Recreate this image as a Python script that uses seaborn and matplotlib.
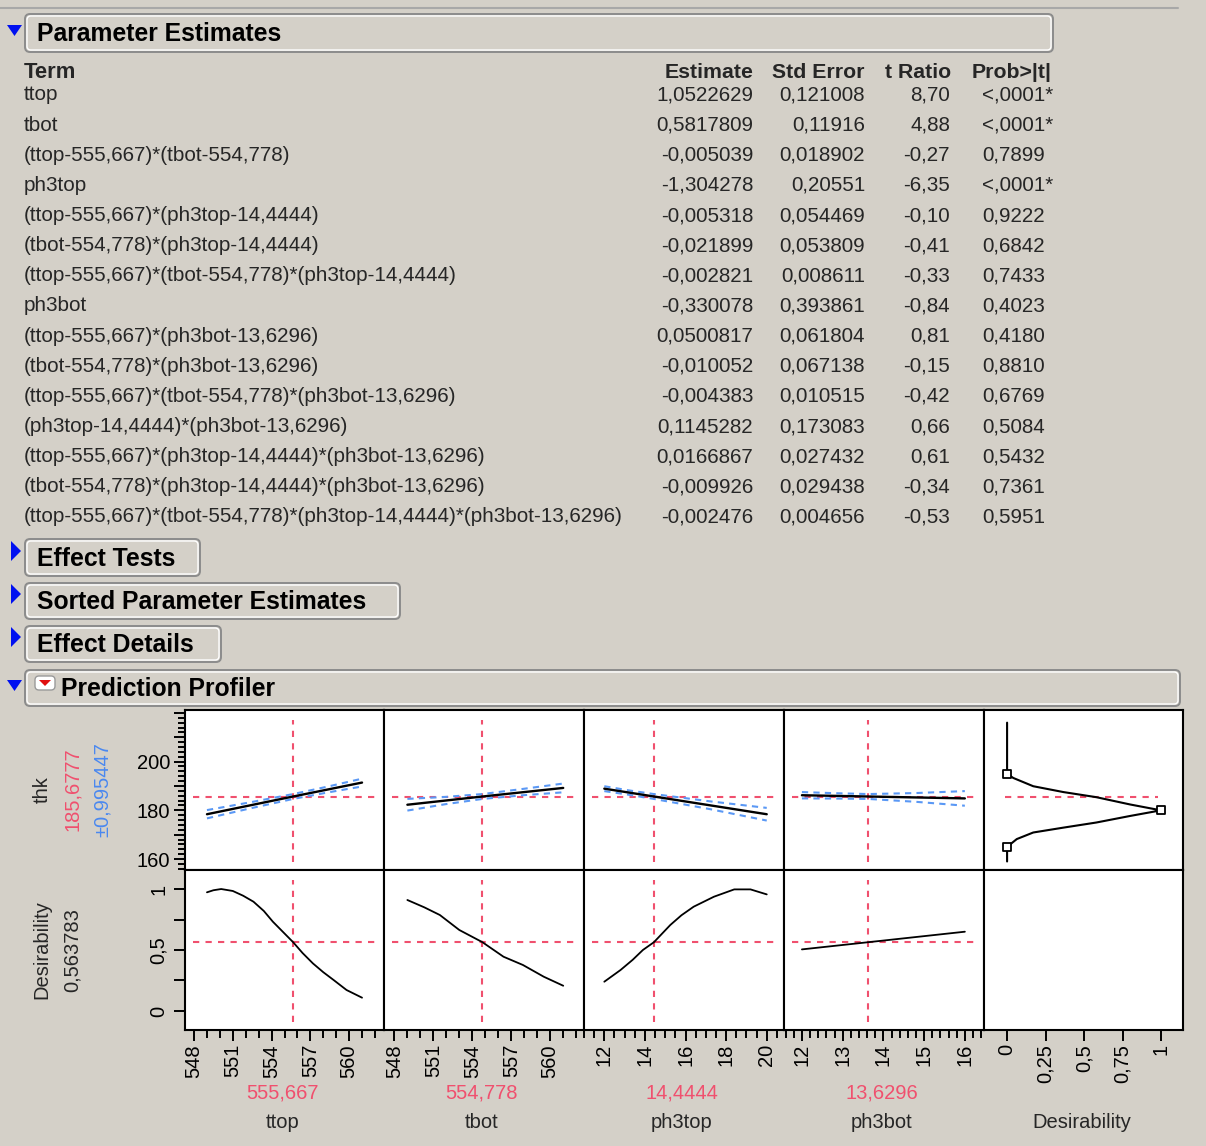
import pandas as pd
import matplotlib.pyplot as plt
import seaborn as sns
from matplotlib.patches import FancyBboxPatch, Polygon
from matplotlib.ticker import FixedLocator, FixedFormatter, MultipleLocator

# ---------------- Parameter Estimates table ----------------
terms = [
    "ttop",
    "tbot",
    "(ttop-555,667)*(tbot-554,778)",
    "ph3top",
    "(ttop-555,667)*(ph3top-14,4444)",
    "(tbot-554,778)*(ph3top-14,4444)",
    "(ttop-555,667)*(tbot-554,778)*(ph3top-14,4444)",
    "ph3bot",
    "(ttop-555,667)*(ph3bot-13,6296)",
    "(tbot-554,778)*(ph3bot-13,6296)",
    "(ttop-555,667)*(tbot-554,778)*(ph3bot-13,6296)",
    "(ph3top-14,4444)*(ph3bot-13,6296)",
    "(ttop-555,667)*(ph3top-14,4444)*(ph3bot-13,6296)",
    "(tbot-554,778)*(ph3top-14,4444)*(ph3bot-13,6296)",
    "(ttop-555,667)*(tbot-554,778)*(ph3top-14,4444)*(ph3bot-13,6296)",
]
estimates = ["1,0522629", "0,5817809", "-0,005039", "-1,304278", "-0,005318",
             "-0,021899", "-0,002821", "-0,330078", "0,0500817", "-0,010052",
             "-0,004383", "0,1145282", "0,0166867", "-0,009926", "-0,002476"]
std_errors = ["0,121008", "0,11916", "0,018902", "0,20551", "0,054469",
              "0,053809", "0,008611", "0,393861", "0,061804", "0,067138",
              "0,010515", "0,173083", "0,027432", "0,029438", "0,004656"]
t_ratios = ["8,70", "4,88", "-0,27", "-6,35", "-0,10", "-0,41", "-0,33", "-0,84",
            "0,81", "-0,15", "-0,42", "0,66", "0,61", "-0,34", "-0,53"]
p_values = ["<,0001*", "<,0001*", "0,7899", "<,0001*", "0,9222", "0,6842", "0,7433",
            "0,4023", "0,4180", "0,8810", "0,6769", "0,5084", "0,5432", "0,7361", "0,5951"]

# ---------------- Prediction Profiler ----------------
factors = ["ttop", "tbot", "ph3top", "ph3bot"]
current_txt = ["555,667", "554,778", "14,4444", "13,6296"]
current_vals = [555.667, 554.778, 14.4444, 13.6296]
thk_now = 185.6777
desir_now = 0.563783

# predicted thk line per factor
ttop_x = [549, 555.667, 561]
ttop_thk = [178.4, 185.68, 191.4]
tbot_x = [549, 554.778, 561]
tbot_thk = [182.3, 185.68, 189.2]
ph3top_x = [12, 14.4444, 20]
ph3top_thk = [188.9, 185.68, 178.4]
ph3bot_x = [12, 13.6296, 16]
ph3bot_thk = [186.2, 185.68, 184.9]

# confidence bands
ttop_bx = [549, 552.3, 555.667, 558.3, 561]
ttop_lo = [176.7, 180.75, 184.68, 187.3, 189.8]
ttop_hi = [180.1, 183.25, 186.68, 189.7, 193.0]
tbot_bx = [549, 551.9, 554.778, 557.9, 561]
tbot_lo = [179.9, 182.5, 184.68, 186.2, 187.4]
tbot_hi = [184.7, 185.5, 186.68, 188.8, 191.0]
ph3top_bx = [12, 13.2, 14.4444, 17.2, 20]
ph3top_lo = [187.9, 186.4, 184.68, 180.5, 175.8]
ph3top_hi = [189.9, 188.2, 186.68, 183.7, 181.0]
ph3bot_bx = [12, 12.8, 13.6296, 14.8, 16]
ph3bot_lo = [184.9, 184.85, 184.68, 183.5, 181.9]
ph3bot_hi = [187.5, 187.05, 186.68, 187.1, 187.9]

# desirability traces
ttop_dx = [549.0, 549.5, 550.1, 551.0, 551.8, 552.6, 553.4, 554.1, 555.667, 556.4, 557.2, 558.0, 558.8, 559.8, 561.0]
ttop_d = [0.973, 0.99, 1.0, 0.984, 0.945, 0.896, 0.82, 0.732, 0.564, 0.475, 0.39, 0.318, 0.254, 0.172, 0.109]
tbot_dx = [549.0, 550.3, 551.5, 553.0, 554.778, 556.4, 557.9, 559.5, 561.0]
tbot_d = [0.91, 0.85, 0.787, 0.664, 0.564, 0.445, 0.377, 0.281, 0.207]
ph3top_dx = [12, 12.8, 13.4, 13.9, 14.4444, 15.25, 15.8, 16.4, 17.4, 18.4, 19.2, 20]
ph3top_d = [0.24, 0.336, 0.42, 0.5, 0.564, 0.705, 0.785, 0.855, 0.937, 0.997, 0.997, 0.956]
ph3bot_dx = [12, 13.6296, 16]
ph3bot_d = [0.505, 0.564, 0.65]

# desirability function for thk (target shape)
dfun_d = [0, 0, 0.04, 0.17, 0.366, 0.58, 0.80, 1.0, 0.80, 0.58, 0.366, 0.17, 0.063, 0, 0]
dfun_thk = [216, 195, 193.3, 189.9, 187.5, 185.4, 182.4, 180, 177.7, 175, 172.9, 170.9, 168.2, 165, 159]
dfun_mark_d = [0, 1, 0]
dfun_mark_thk = [195, 180, 165]

W, H = 1206, 1146
BG = "#D4D0C8"
RED = "#F0506E"
BLUE_TXT = "#4A88F0"
BLUE = "#5A98F5"
PX = 0.72  # points per pixel at dpi 100

sns.set_theme(style="white")
plt.rcParams["font.family"] = ["Liberation Sans", "DejaVu Sans"]

fig = plt.figure(figsize=(W / 100, H / 100), dpi=100, facecolor=BG)

# overlay in pixel coordinates for the window chrome and text
ov = fig.add_axes([0, 0, 1, 1])
ov.set_xlim(0, W)
ov.set_ylim(H, 0)
ov.axis("off")

ov.plot([0, 1178], [8, 8], color="#A8A8A8", lw=1.5)


def bar(x0, y0, x1, y1, label, tx, size=17.8):
    ov.add_patch(FancyBboxPatch((x0, y0), x1 - x0, y1 - y0,
                                boxstyle="round,pad=0,rounding_size=5",
                                fc=BG, ec="#8C8C8C", lw=1.4))
    ov.add_patch(FancyBboxPatch((x0 + 2, y0 + 2), x1 - x0 - 4, y1 - y0 - 4,
                                boxstyle="round,pad=0,rounding_size=4",
                                fc="none", ec="white", lw=1.0))
    ov.text(tx, (y0 + y1) / 2 + 1, label, fontsize=size, fontweight="bold",
            ha="left", va="center", color="black")


def tri_down(x, y):
    ov.add_patch(Polygon([(x, y), (x + 15, y), (x + 7.5, y + 11)], closed=True,
                         fc="#0010F0", ec="none"))


def tri_right(x, y):
    ov.add_patch(Polygon([(x, y), (x + 10, y + 10), (x, y + 20)], closed=True,
                         fc="#0010F0", ec="none"))


bar(25, 14, 1053, 52, "Parameter Estimates", 37)
tri_down(7, 25)
bar(25, 539, 200, 576, "Effect Tests", 37)
tri_right(11, 541)
bar(25, 583, 400, 619, "Sorted Parameter Estimates", 37)
tri_right(11, 584)
bar(25, 626, 221, 662, "Effect Details", 37)
tri_right(11, 627)
bar(25, 670, 1180, 706, "Prediction Profiler", 61)
tri_down(7, 680)
ov.add_patch(FancyBboxPatch((35, 676), 20, 14, boxstyle="round,pad=0,rounding_size=4",
                            fc="white", ec="#9A9A9A", lw=1))
ov.add_patch(Polygon([(39, 680), (51, 680), (45, 686)], closed=True, fc="#E01010", ec="none"))

# table
HS, BS = 15.3, 14.9
ov.text(24, 72, "Term", fontsize=HS + 0.5, fontweight="bold", ha="left", va="center")
ov.text(753, 72, "Estimate", fontsize=HS, fontweight="bold", ha="right", va="center")
ov.text(865, 72, "Std Error", fontsize=HS, fontweight="bold", ha="right", va="center")
ov.text(951, 72, "t Ratio", fontsize=HS, fontweight="bold", ha="right", va="center")
ov.text(972, 72, "Prob>|t|", fontsize=HS, fontweight="bold", ha="left", va="center")
for i in range(len(terms)):
    y = 95 + i * 30.14
    ov.text(24, y, terms[i], fontsize=BS, ha="left", va="center")
    ov.text(753, y, estimates[i], fontsize=BS, ha="right", va="center")
    ov.text(865, y, std_errors[i], fontsize=BS, ha="right", va="center")
    ov.text(950, y, t_ratios[i], fontsize=BS, ha="right", va="center")
    ov.text(982, y, p_values[i], fontsize=BS, ha="left", va="center")

# profiler grid
col_edges = [185, 384, 584, 784, 984, 1183]
row_edges = [710, 870, 1030]
xlims = [(547.3, 562.7), (547.2, 562.6), (11.0, 20.85), (11.56, 16.47), (-0.15, 1.143)]
top_lim = (155.5, 221.2)
bot_lim = (-0.156, 1.156)


def panel(c, r):
    x0, x1 = col_edges[c], col_edges[c + 1]
    y0, y1 = row_edges[r], row_edges[r + 1]
    ax = fig.add_axes([x0 / W, 1 - y1 / H, (x1 - x0) / W, (y1 - y0) / H])
    ax.set_facecolor("white")
    for s in ax.spines.values():
        s.set_visible(True)
        s.set_color("black")
        s.set_linewidth(1.5)
    ax.set_xlim(*xlims[c])
    ax.set_ylim(*(top_lim if r == 0 else bot_lim))
    ax.tick_params(which="both", left=False, bottom=False, labelleft=False, labelbottom=False)
    return ax


dash = (0, (3, 3))
pred_x = [ttop_x, tbot_x, ph3top_x, ph3bot_x]
pred_y = [ttop_thk, tbot_thk, ph3top_thk, ph3bot_thk]
band_x = [ttop_bx, tbot_bx, ph3top_bx, ph3bot_bx]
band_lo = [ttop_lo, tbot_lo, ph3top_lo, ph3bot_lo]
band_hi = [ttop_hi, tbot_hi, ph3top_hi, ph3bot_hi]
des_x = [ttop_dx, tbot_dx, ph3top_dx, ph3bot_dx]
des_y = [ttop_d, tbot_d, ph3top_d, ph3bot_d]

axes_top, axes_bot = [], []
for c in range(5):
    at = panel(c, 0)
    ab = panel(c, 1)
    axes_top.append(at)
    axes_bot.append(ab)
    if c < 4:
        at.axhline(thk_now, 0.04, 0.955, color=RED, lw=1.5, ls=dash, zorder=1)
        at.axvline(current_vals[c], 0.05, 0.94, color=RED, lw=1.5, ls=dash, zorder=1)
        sns.lineplot(x=band_x[c], y=band_lo[c], ax=at, color=BLUE, lw=1.5,
                     linestyle=(0, (3, 2.5)), estimator=None, sort=False, zorder=2)
        sns.lineplot(x=band_x[c], y=band_hi[c], ax=at, color=BLUE, lw=1.5,
                     linestyle=(0, (3, 2.5)), estimator=None, sort=False, zorder=2)
        sns.lineplot(x=pred_x[c], y=pred_y[c], ax=at, color="black", lw=1.7,
                     estimator=None, sort=False, zorder=3)

        ab.axhline(desir_now, 0.04, 0.955, color=RED, lw=1.5, ls=dash, zorder=1)
        ab.axvline(current_vals[c], 0.05, 0.94, color=RED, lw=1.5, ls=dash, zorder=1)
        sns.lineplot(x=des_x[c], y=des_y[c], ax=ab, color="black", lw=1.3,
                     estimator=None, sort=False, zorder=3)
    else:
        at.axhline(thk_now, 0.105, 0.874, color=RED, lw=1.5, ls=dash, zorder=1)
        sns.lineplot(x=dfun_d, y=dfun_thk, ax=at, color="black", lw=1.5,
                     estimator=None, sort=False, zorder=3)
        sns.scatterplot(x=dfun_mark_d, y=dfun_mark_thk, ax=at, marker="s", s=32,
                        facecolor="white", edgecolor="black", linewidth=1.3, zorder=4)
    for a in (at, ab):
        a.set_xlabel("")
        a.set_ylabel("")

# left axis: thk
ax = axes_top[0]
ax.yaxis.set_major_locator(FixedLocator([160, 170, 180, 190, 200, 210, 220]))
ax.yaxis.set_major_formatter(FixedFormatter(["160", "", "180", "", "200", "", ""]))
ax.yaxis.set_minor_locator(MultipleLocator(2))
ax.tick_params(axis="y", which="major", left=True, labelleft=True, length=11 * PX, width=1.4,
               labelsize=14.5, pad=4 * PX, color="black", labelcolor="black")
ax.tick_params(axis="y", which="minor", left=True, length=7 * PX, width=1.4, color="black")

# left axis: desirability
ax = axes_bot[0]
ax.yaxis.set_major_locator(FixedLocator([0, 0.25, 0.5, 0.75, 1]))
ax.yaxis.set_major_formatter(FixedFormatter(["0", "", "0,5", "", "1"]))
ax.tick_params(axis="y", which="major", left=True, labelleft=True, length=11 * PX, width=1.4,
               labelsize=14.5, pad=6 * PX, labelrotation=90, color="black", labelcolor="black")
for lab in ax.get_yticklabels():
    lab.set_va("center")

# bottom axes
majors = [[548, 551, 554, 557, 560], [548, 551, 554, 557, 560],
          [12, 14, 16, 18, 20], [12, 13, 14, 15, 16], [0, 0.25, 0.5, 0.75, 1]]
major_txt = [["548", "551", "554", "557", "560"], ["548", "551", "554", "557", "560"],
             ["12", "14", "16", "18", "20"], ["12", "13", "14", "15", "16"],
             ["0", "0,25", "0,5", "0,75", "1"]]
minors = [1, 1, 0.5, 0.2, None]
for c in range(5):
    ax = axes_bot[c]
    ax.xaxis.set_major_locator(FixedLocator(majors[c]))
    ax.xaxis.set_major_formatter(FixedFormatter(major_txt[c]))
    if minors[c]:
        ax.xaxis.set_minor_locator(MultipleLocator(minors[c]))
        ax.tick_params(axis="x", which="minor", bottom=True, length=8 * PX, width=1.4, color="black")
    ax.tick_params(axis="x", which="major", bottom=True, labelbottom=True, length=11 * PX, width=1.4,
                   labelsize=14.5, pad=3 * PX, labelrotation=90, color="black", labelcolor="black")

# profiler labels
ov.text(42, 790, "thk", rotation=90, fontsize=14.5, ha="center", va="center")
ov.text(72, 789, "185,6777", rotation=90, fontsize=14.5, color=RED, ha="center", va="center")
ov.text(102, 790, "\u00b10,995447", rotation=90, fontsize=14.5, color=BLUE_TXT,
        ha="center", va="center")
ov.text(42, 950, "Desirability", rotation=90, fontsize=14.5, ha="center", va="center")
ov.text(72, 950, "0,563783", rotation=90, fontsize=14.5, ha="center", va="center")

centers = [(col_edges[i] + col_edges[i + 1]) / 2 for i in range(5)]
for c in range(4):
    ov.text(centers[c] - 2, 1093, current_txt[c], fontsize=14.5, color=RED, ha="center", va="center")
    ov.text(centers[c] - 2, 1123, factors[c], fontsize=14.5, ha="center", va="center")
ov.text(centers[4] - 2, 1123, "Desirability", fontsize=14.5, ha="center", va="center")

fig.savefig("out.png", dpi=100, facecolor=BG)
